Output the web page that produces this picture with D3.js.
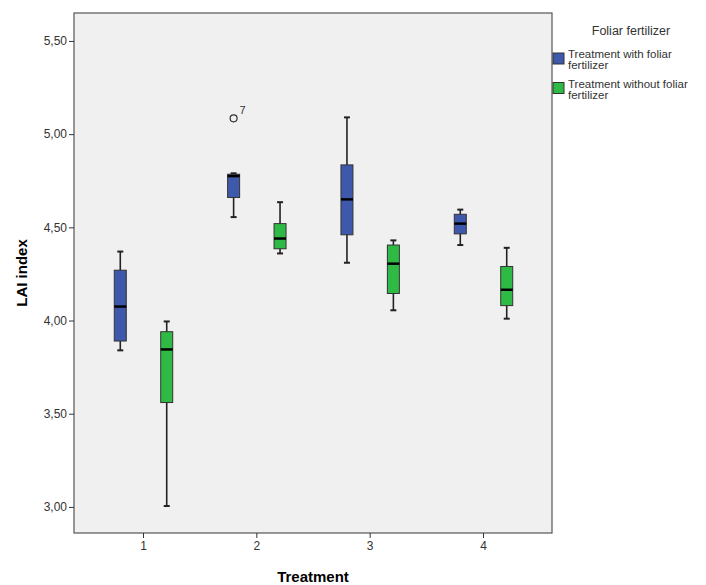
<!DOCTYPE html>
<html>
<head>
<meta charset="utf-8">
<script src="https://cdn.jsdelivr.net/npm/d3@7"></script>
<style>
body { margin: 0; background: #fff; }
text { font-family: "Liberation Sans", Arial, sans-serif; }
</style>
</head>
<body>
<div id="chart"></div>
<script>
// data
var treatments = ["1", "2", "3", "4"];
var groups = ["Treatment with foliar fertilizer", "Treatment without foliar fertilizer"];
var groupColors = ["#3e58ac", "#2fba46"];
var yTicks = [3.0, 3.5, 4.0, 4.5, 5.0, 5.5];

// [whiskerLow, q1, median, q3, whiskerHigh] per treatment
var withFoliar = [
  [3.84, 3.89, 4.075, 4.27, 4.37],
  [4.555, 4.66, 4.775, 4.785, 4.79],
  [4.31, 4.46, 4.65, 4.835, 5.09],
  [4.405, 4.465, 4.52, 4.57, 4.595]
];
var withoutFoliar = [
  [3.005, 3.56, 3.845, 3.94, 3.995],
  [4.36, 4.385, 4.44, 4.52, 4.635],
  [4.055, 4.145, 4.305, 4.405, 4.43],
  [4.01, 4.08, 4.165, 4.29, 4.39]
];
// outliers: treatment, group index, value, case label
var outliers = [
  { t: "2", g: 0, v: 5.085, label: "7" }
];

var W = 706, H = 585;
var plot = { left: 74, right: 552, top: 13, bottom: 533 };

var svg = d3.select("#chart").append("svg")
  .attr("width", W).attr("height", H);

var x = d3.scalePoint()
  .domain(treatments)
  .range([plot.left + 69, plot.right - 69]);

var offset = d3.scaleBand()
  .domain([0, 1])
  .range([-32, 33])
  .paddingInner(0.6);

var y = d3.scaleLinear()
  .domain([2.86, 5.65])
  .range([plot.bottom, plot.top]);

// plot background
svg.append("rect")
  .attr("x", plot.left).attr("y", plot.top)
  .attr("width", plot.right - plot.left)
  .attr("height", plot.bottom - plot.top)
  .attr("fill", "#f0f0f0")
  .attr("stroke", "#555")
  .attr("stroke-width", 1.2);

// y axis
var yAxis = svg.append("g")
  .attr("transform", "translate(" + plot.left + ",0)")
  .call(d3.axisLeft(y).tickValues(yTicks).tickSize(5).tickPadding(2)
    .tickFormat(function(d) { return d3.format(".2f")(d).replace(".", ","); }));
yAxis.select(".domain").remove();
yAxis.selectAll("line").attr("stroke", "#333");
yAxis.selectAll("text").attr("font-size", 12).attr("fill", "#333")
  .style("font-family", "'Liberation Sans', Arial, sans-serif");

// x axis
var xAxis = svg.append("g")
  .attr("transform", "translate(0," + plot.bottom + ")")
  .call(d3.axisBottom(x).tickSize(5).tickPadding(3));
xAxis.select(".domain").remove();
xAxis.selectAll("line").attr("stroke", "#333");
xAxis.selectAll("text").attr("font-size", 12).attr("fill", "#333")
  .style("font-family", "'Liberation Sans', Arial, sans-serif");

// axis titles
svg.append("text")
  .attr("x", (plot.left + plot.right) / 2)
  .attr("y", 582)
  .attr("text-anchor", "middle")
  .attr("font-size", 15).attr("font-weight", "bold")
  .text("Treatment");

svg.append("text")
  .attr("transform", "translate(27," + (plot.top + plot.bottom) / 2 + ")rotate(-90)")
  .attr("text-anchor", "middle")
  .attr("font-size", 15).attr("font-weight", "bold")
  .text("LAI index");

// boxes
var boxW = 12;
var boxes = [];
treatments.forEach(function(t, i) {
  boxes.push({ t: t, g: 0, s: withFoliar[i] });
  boxes.push({ t: t, g: 1, s: withoutFoliar[i] });
});

function cx(t, g) {
  return x(t) + offset(g) + offset.bandwidth() / 2;
}

var bx = svg.selectAll(".box")
  .data(boxes)
  .enter().append("g")
  .attr("class", "box");

// whisker stems
bx.append("line")
  .attr("x1", function(d) { return cx(d.t, d.g); })
  .attr("x2", function(d) { return cx(d.t, d.g); })
  .attr("y1", function(d) { return y(d.s[0]); })
  .attr("y2", function(d) { return y(d.s[4]); })
  .attr("stroke", "#222").attr("stroke-width", 1.6);

// caps
[0, 4].forEach(function(k) {
  bx.append("line")
    .attr("x1", function(d) { return cx(d.t, d.g) - 3; })
    .attr("x2", function(d) { return cx(d.t, d.g) + 3; })
    .attr("y1", function(d) { return y(d.s[k]); })
    .attr("y2", function(d) { return y(d.s[k]); })
    .attr("stroke", "#222").attr("stroke-width", 2);
});

bx.append("rect")
  .attr("x", function(d) { return cx(d.t, d.g) - boxW / 2; })
  .attr("y", function(d) { return y(d.s[3]); })
  .attr("width", boxW)
  .attr("height", function(d) { return y(d.s[1]) - y(d.s[3]); })
  .attr("fill", function(d) { return groupColors[d.g]; })
  .attr("stroke", "#333").attr("stroke-width", 1);

bx.append("line")
  .attr("x1", function(d) { return cx(d.t, d.g) - boxW / 2; })
  .attr("x2", function(d) { return cx(d.t, d.g) + boxW / 2; })
  .attr("y1", function(d) { return y(d.s[2]); })
  .attr("y2", function(d) { return y(d.s[2]); })
  .attr("stroke", "#000").attr("stroke-width", 2.5);

// outliers
svg.selectAll(".outlier")
  .data(outliers)
  .enter().append("circle")
  .attr("cx", function(d) { return cx(d.t, d.g); })
  .attr("cy", function(d) { return y(d.v); })
  .attr("r", 3.5)
  .attr("fill", "none")
  .attr("stroke", "#333").attr("stroke-width", 1.2);

svg.selectAll(".outlabel")
  .data(outliers)
  .enter().append("text")
  .attr("x", function(d) { return cx(d.t, d.g) + 6; })
  .attr("y", function(d) { return y(d.v) - 4; })
  .attr("font-size", 11).attr("fill", "#333")
  .text(function(d) { return d.label; });

// legend
svg.append("text")
  .attr("x", 631).attr("y", 35)
  .attr("text-anchor", "middle")
  .attr("font-size", 12.5).attr("fill", "#333")
  .text("Foliar fertilizer");

var lg = svg.selectAll(".leg")
  .data(groups)
  .enter().append("g")
  .attr("class", "leg")
  .attr("transform", function(d, i) { return "translate(553," + (53 + i * 29.5) + ")"; });

lg.append("rect")
  .attr("width", 11).attr("height", 11)
  .attr("fill", function(d, i) { return groupColors[i]; })
  .attr("stroke", "#333").attr("stroke-width", 1);

lg.append("text")
  .attr("x", 15).attr("y", 5)
  .attr("font-size", 11.5).attr("fill", "#333")
  .each(function(d) {
    var words = d.split(" ");
    var first = words.slice(0, words.length - 1).join(" ");
    var last = words[words.length - 1];
    d3.select(this).append("tspan").attr("x", 15).attr("dy", 0).text(first);
    d3.select(this).append("tspan").attr("x", 15).attr("dy", 11).text(last);
  });
</script>
</body>
</html>
